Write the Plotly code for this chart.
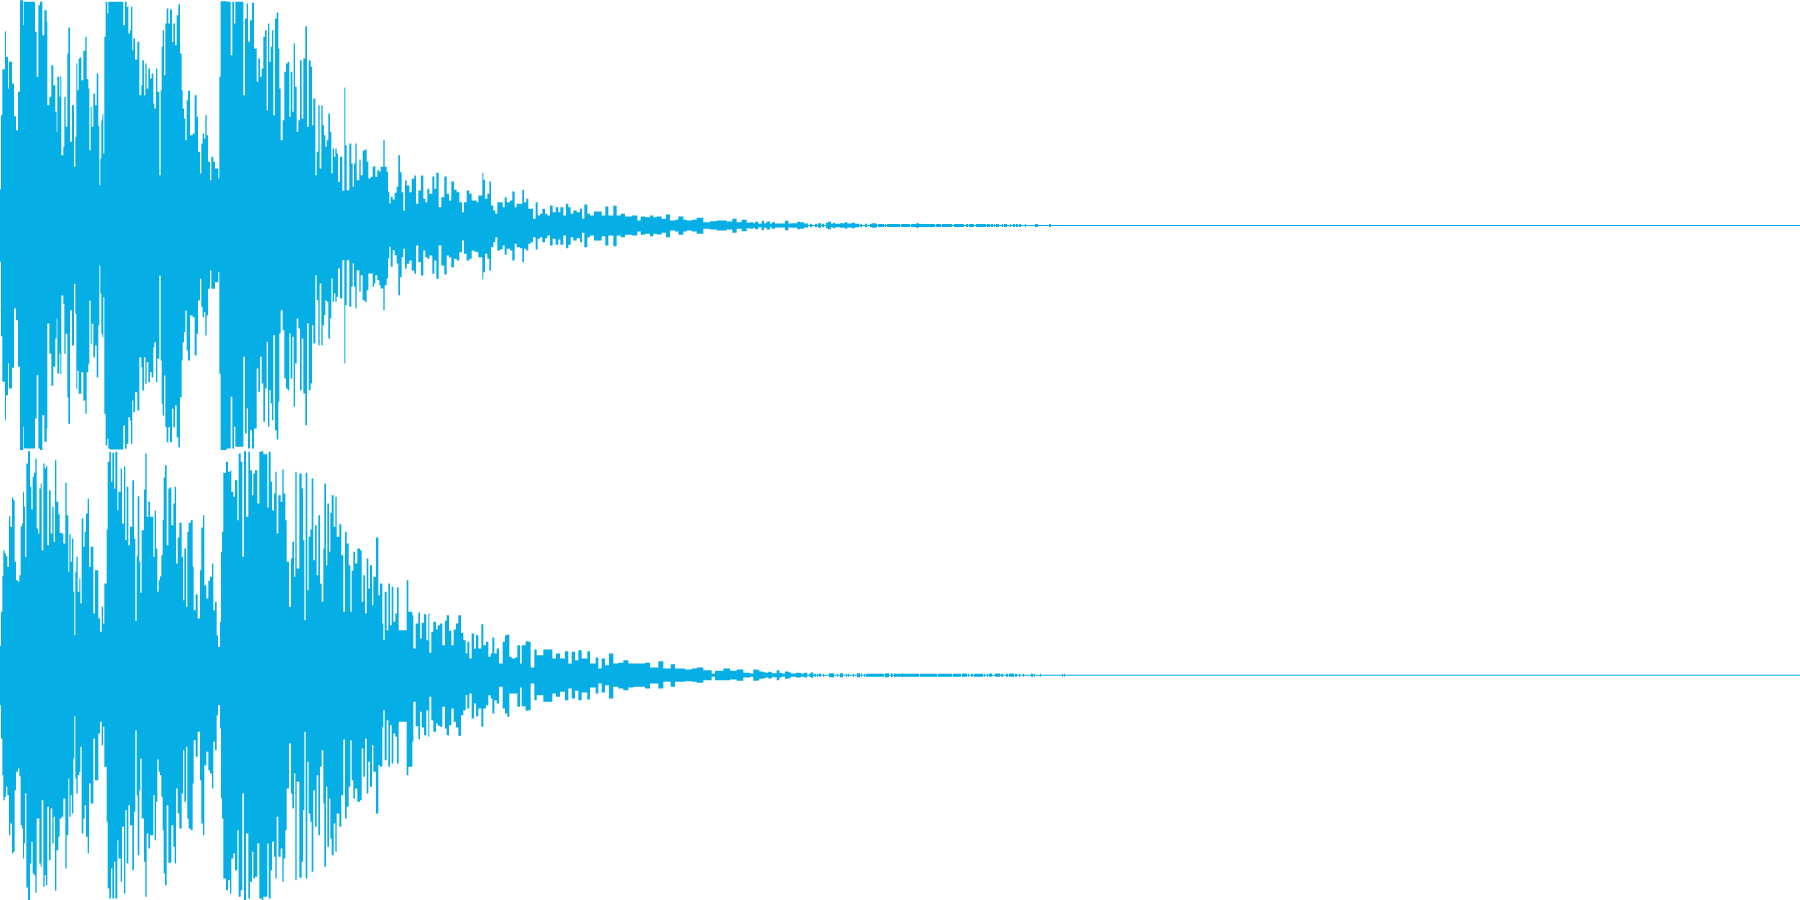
import plotly.graph_objects as go

COLOR = "#06AEE6"

ch1_time = [
    0,3,7,15,18,24,27,36,42,48,
    54,60,70,72,105,110,115,120,127,133,
    140,142,148,154,160,166,170,172,178,181,
    184,190,193,197,202,205,210,216,222,226,
    229,232,236,240,244,250,256,260,265,268,
    272,275,280,285,290,295,298,301,304,307,
    310,313,317,322,325,330,370,375,380,385,
    390,393,397,400,405,412,418,424,427,432,
    436,440,445,450,455,460,463,468,472,478,
    482,485,488,492,496,500,505,510,516,520,
    525,530,535,540,545,548,552,556,560,564,
    570,578,584,590,594,600,604,608,612,616,
    620,624,630,634,640,645,655,658,662,680,
    692,697,702,706,730,735,740,744,750,756,
    762,770,775,780,785,790,795,800,804,808,
    812,816,820,825,830,835,838,842,848,853,
    858,863,868,872,877,881,885,890,895,900,
    905,910,916,921,926,932,936,940,946,950,
    955,959,964,968,972,976,980,985,990,994,
    998,1002,1006,1010,1014,1020,1027,1033,1036,1040,
    1048,1054,1058,1062,1066,1070,1078,1082,1088,1094,
    1100,1105,1112,1118,1122,1126,1132,1138,1142,1150,
    1154,1160,1164,1168,1172,1178,1184,1190,1195,1200,
    1205,1210,1215,1220,1228,1235,1243,1248,1255,1263,
    1270,1276,1282,1288,1297,1303,1309,1316,1324,1333,
    1340,1347,1354,1362,1370,1378,1386,1392,1400,1408,
    1415,1422,1430,1435,1447,1450,1455,1462,1468,1473,
    1480,1486,1492,1500,1508,1514,1520,1530,1537,1544,
    1550,1560,1567,1572,1579,1585,1592,1599,1607,1613,
    1620,1627,1635,1642,1650,1658,1667,1675,1681,1690,
    1698,1705,1712,1720,1730,1740,1746,1753,1762,1770,
    1782,1795,1805,1816,1825,1832,1840,1850,1862,1875,
    1885,1895,1905,1912,1922,1935,1950,1960,1970,1985,
    1998,2010,2025,2035,2050,2060,2075,2090,2110,2130,
    2150,2180,2197,2210,2225,2240,
]
ch1_peak = [
    109,331,469,583,506,411,491,426,328,286,
    401,676,601,671,581,446,661,671,571,646,
    611,361,386,481,421,341,281,446,386,448,
    211,236,386,296,516,594,251,361,176,266,
    486,406,501,504,436,524,566,439,411,226,
    356,296,396,361,456,298,121,201,316,334,
    216,566,671,636,671,671,601,671,656,576,
    586,656,526,561,498,551,391,421,496,391,
    486,411,471,441,456,366,351,471,401,151,
    406,536,586,451,606,651,606,648,551,606,
    541,631,664,516,406,351,321,256,376,404,
    271,276,391,326,221,156,246,276,261,331,
    271,191,136,206,191,171,141,446,673,671,
    511,671,606,671,391,621,666,551,616,668,
    531,431,501,446,471,566,586,346,606,491,
    536,586,331,621,639,531,411,256,316,461,
    486,491,326,461,341,546,416,281,316,496,
    321,501,598,296,496,476,301,381,151,221,
    361,171,361,301,271,236,256,336,281,156,
    231,206,231,216,131,206,104,414,241,106,
    246,186,116,186,246,136,198,151,224,228,
    191,141,146,176,178,146,166,161,176,256,
    176,161,101,66,86,78,98,116,211,160,
    100,45,135,120,100,140,150,65,105,150,
    80,70,110,95,147,110,158,55,85,147,
    95,75,132,107,100,70,40,70,105,95,
    75,75,70,90,158,137,80,95,132,60,
    45,35,70,70,55,85,70,75,102,55,
    65,65,107,70,80,50,50,20,70,30,
    35,50,35,30,60,40,55,40,55,30,
    65,55,35,45,40,50,20,63,35,30,
    42,42,30,57,30,30,59,30,35,27,
    27,30,30,15,27,25,30,25,27,20,
    33,15,17,27,17,15,17,23,10,13,
    15,12,20,10,17,8,
]
ch1_trough = [
    109,332,469,584,509,414,489,427,249,284,
    424,674,604,669,579,449,669,674,569,649,
    609,294,384,481,424,339,279,444,384,446,
    210,235,385,325,515,595,254,360,175,265,
    490,435,505,505,440,525,565,440,415,225,
    355,295,395,360,455,300,120,205,325,335,
    215,565,660,640,670,672,600,670,655,575,
    585,655,525,560,500,555,395,425,495,395,
    475,410,470,440,455,365,350,470,400,150,
    405,535,570,450,605,650,605,650,550,605,
    540,635,665,515,405,350,320,255,375,405,
    270,275,390,325,225,160,245,275,260,330,
    270,190,135,190,190,170,140,445,674,669,
    514,669,604,664,394,624,549,669,614,669,
    609,429,499,394,474,589,489,349,604,494,
    534,584,329,614,642,529,324,254,314,459,
    489,494,324,459,334,544,414,279,309,494,
    339,504,599,294,494,474,299,354,149,224,
    359,174,359,299,269,224,229,339,279,159,
    229,204,229,214,129,219,104,414,239,104,
    244,184,114,184,249,134,199,149,224,229,
    194,144,144,184,174,149,164,179,189,254,
    179,159,99,64,124,74,89,114,209,155,
    95,70,130,115,105,135,145,60,110,150,
    75,95,100,90,145,105,160,60,120,147,
    90,95,125,100,105,80,45,85,105,100,
    75,78,80,95,162,140,85,100,135,65,
    50,35,75,72,60,88,70,75,105,55,
    65,68,110,70,75,55,50,35,72,40,
    35,50,38,30,60,40,58,42,58,30,
    68,58,35,45,38,50,22,65,35,30,
    45,45,32,60,30,30,62,30,35,28,
    28,30,30,18,28,25,32,25,27,22,
    35,15,18,28,18,15,18,25,10,12,
    15,12,22,10,17,8,
]
ch1_tail_time = [
    2250,2260,2265,2275,2285,2292,2300,2310,2315,2325,
    2335,2355,2365,2375,2392,2400,2412,2424,2430,2436,
    2445,2451,2454,2463,2466,2472,2478,2484,2493,2499,
    2505,2520,2535,2542,2555,2565,2578,2581,2586,2595,
    2601,2610,2616,2628,2631,2634,2652,2655,2658,2661,
    2700,2703,2730,2733,2748,2757,2805,2808,2823,2826,
    2856,2862,2892,2898,2904,2907,2922,2928,2958,2961,
    2970,2973,2979,2982,2985,2988,2997,3006,3009,3012,
    3021,3030,3033,3039,3045,3048,3054,3057,3063,3075,
    3078,3105,3114,3147,3153,
]
ch1_tail_level = [
    10,7,11,5,14,7,12,5,10,6,
    6,14,6,7,11,10,6,1.5,5,1.5,
    5,1.5,7,1.5,5,1.5,8,11,5,8,
    5,7,10,6,8,5,1.5,5,1.5,5,
    1.5,5,7,5,1.5,4.5,1.5,4.5,1.5,4.5,
    1.5,4.5,1.5,4.5,7,4.5,1.5,4.5,1.5,4.5,
    1.5,4.5,1.5,4.5,1.5,4.5,1.5,4.5,1.5,4.5,
    1.5,4.5,1.5,4.5,1.5,4.5,1.5,4.5,1.5,4.5,
    1.5,4.5,1.5,4.5,1.5,4.5,1.5,4.5,1.5,4.5,
    1.5,4.5,1.5,4.5,1.5,
]

ch2_time = [
    0,3,7,10,14,18,22,27,31,36,
    40,44,48,54,58,62,66,69,72,75,
    79,84,90,94,98,102,106,110,114,118,
    122,125,130,134,138,142,147,152,157,161,
    165,169,175,179,185,190,196,200,205,208,
    212,216,220,223,226,229,233,238,241,245,
    250,254,258,263,267,272,280,285,295,300,
    305,309,313,320,323,328,333,337,342,346,
    352,355,362,366,372,376,380,385,390,397,
    402,406,410,413,418,421,425,432,436,440,
    445,450,460,464,468,472,476,480,484,488,
    491,495,500,505,510,514,520,524,528,533,
    538,545,549,553,558,562,566,572,578,581,
    587,593,600,604,609,613,619,625,630,636,
    640,645,650,654,660,663,666,670,678,684,
    690,694,700,705,712,716,722,727,732,738,
    745,750,756,760,765,772,778,785,790,802,
    806,812,816,822,826,830,835,842,847,851,
    856,860,867,873,877,882,886,890,898,905,
    909,913,917,922,926,931,935,940,945,950,
    955,960,965,970,973,978,982,987,991,995,
    1001,1006,1010,1018,1024,1030,1035,1040,1046,1051,
    1055,1060,1065,1072,1080,1085,1090,1095,1100,1105,
    1110,1116,1120,1128,1135,1140,1147,1150,1154,1160,
    1165,1170,1175,1180,1186,1191,1196,1220,1225,1237,
    1240,1247,1255,1260,1265,1272,1279,1285,1288,1294,
    1300,1308,1313,1320,1327,1335,1340,1347,1354,1361,
    1368,1375,1383,1390,1397,1402,1408,1415,1422,1428,
    1435,1444,1450,1458,1465,1472,1477,1483,1490,1497,
    1508,1515,1522,1528,1535,1545,1552,1560,1565,1577,
    1583,1592,1603,1610,1620,1630,1640,1650,1657,1668,
    1680,1695,1705,1715,1725,1735,1745,1762,1770,1787,
    1795,1805,1815,1827,1840,1855,1870,1885,1900,1920,
    1935,1950,1965,1975,1990,2012,2025,2040,2055,2075,
    2090,2110,2125,2135,2145,2170,2190,2210,2230,
]
ch2_peak = [
    88,190,297,375,365,357,325,477,445,533,
    525,340,285,280,300,447,455,550,505,355,
    635,672,565,497,595,607,650,440,425,560,
    575,375,635,620,627,390,555,425,505,400,
    645,520,483,427,425,395,578,480,310,423,
    340,410,250,120,310,355,250,290,215,470,
    385,430,485,530,325,385,185,315,170,130,
    205,155,275,437,640,670,580,667,560,670,
    495,550,620,455,627,405,565,390,445,585,
    410,163,357,537,340,247,435,557,665,475,
    520,475,355,493,380,250,285,297,360,465,
    593,630,390,560,563,450,515,565,335,413,
    457,355,225,380,205,430,457,465,325,195,
    243,170,315,443,480,270,230,283,295,335,
    195,220,120,85,160,370,430,607,640,610,
    613,550,535,585,465,665,640,355,672,475,
    670,615,540,605,615,515,670,672,663,503,
    670,580,495,545,610,425,540,520,617,545,
    465,340,205,350,400,295,610,320,605,560,
    405,165,607,255,415,437,590,345,450,300,
    480,275,220,380,575,330,515,370,487,540,
    445,535,415,453,360,190,430,395,330,190,
    313,370,335,380,375,220,300,185,350,260,
    330,210,295,413,240,275,155,105,250,135,
    275,150,265,160,185,263,135,285,190,180,
    80,155,188,110,157,183,105,185,67,130,
    160,137,150,155,90,163,180,133,90,137,
    155,180,127,105,65,100,50,125,80,120,
    80,153,90,100,55,65,113,65,80,35,
    100,120,122,55,50,53,90,35,90,102,
    100,23,77,60,60,77,77,77,50,65,
    50,72,35,70,45,75,50,72,35,53,
    20,50,30,65,35,37,45,35,35,35,
    37,23,23,42,20,33,20,20,17,20,
    23,15,15,5,13,20,13,17,7,
]
ch2_trough = [
    90,190,300,375,365,335,360,480,445,535,
    530,345,290,280,303,450,460,550,505,355,
    637,675,565,500,595,600,653,430,430,565,
    575,375,635,600,630,395,555,400,505,425,
    647,525,485,430,425,370,580,480,310,425,
    360,415,250,123,310,355,300,290,215,475,
    430,390,485,535,325,385,190,315,175,140,
    210,155,275,440,640,670,580,670,560,670,
    495,550,620,455,655,405,565,390,450,585,
    410,165,360,540,345,250,430,560,665,475,
    520,480,360,495,380,253,290,300,365,465,
    595,630,390,563,563,450,515,565,340,415,
    460,355,225,380,215,430,460,465,325,195,
    245,170,315,445,480,270,230,285,295,340,
    200,225,120,90,160,370,430,610,645,615,
    655,550,535,585,465,665,645,355,675,475,
    670,620,530,610,605,505,670,675,665,505,
    670,585,500,545,610,425,545,520,620,550,
    465,340,205,355,400,295,615,320,608,560,
    405,170,610,260,415,440,590,345,455,300,
    480,275,225,385,575,335,515,370,490,540,
    445,530,415,455,360,193,430,395,335,195,
    315,370,340,380,375,220,305,190,355,260,
    335,210,290,415,270,275,155,105,255,135,
    275,150,265,175,185,265,140,300,275,200,
    80,153,192,110,157,180,105,185,65,135,
    170,145,152,155,95,160,180,150,100,140,
    157,182,120,105,60,100,55,130,85,123,
    100,155,100,90,60,70,115,75,85,35,
    100,115,125,55,55,55,95,37,93,107,
    105,25,75,60,60,80,80,80,55,65,
    50,75,40,70,47,75,52,73,37,55,
    25,52,30,70,35,40,45,37,35,35,
    40,25,25,40,20,35,20,20,18,20,
    23,15,15,5,15,15,13,17,7,
]
ch2_tail_time = [
    2250,2260,2270,2278,2290,2297,2305,2315,2330,2338,
    2345,2355,2365,2372,2388,2402,2412,2422,2428,2432,
    2440,2443,2448,2451,2454,2457,2463,2469,2472,2487,
    2502,2511,2514,2520,2529,2538,2541,2544,2547,2559,
    2562,2571,2580,2583,2586,2592,2595,2598,2652,2655,
    2667,2673,2676,2679,2682,2685,2706,2709,2757,2760,
    2811,2814,2856,2859,2883,2886,2901,2904,2907,2913,
    2919,2922,2949,2952,2955,2961,2964,2967,2976,2985,
    3000,3003,3009,3018,3024,3027,3042,3045,3051,3057,
    3060,3069,3072,3093,3099,3102,3105,3120,3123,3186,
    3189,3192,3195,
]
ch2_tail_level = [
    5,17,16,11,9,7,10,6,15,7,
    5,11,9,5,7,5,7,1.5,5,8,
    1.5,4.5,1.5,4.5,1.5,5,1.5,4.5,1.5,6,
    1.5,4.5,1.5,6,1.5,4.5,1.5,4.5,1.5,4.5,
    1.5,6,1.5,5,1.5,4.5,1.5,4.5,1.5,6,
    1.5,6,4.5,1.5,6,4.5,6,4.5,1.5,4.5,
    1.5,4.5,1.5,4.5,1.5,5,1.5,4.5,1.5,4.5,
    1.5,4.5,1.5,4.5,1.5,4.5,1.5,5,1.5,5,
    1.5,4.5,1.5,4.5,1.5,5,1.5,4.5,1.5,4.5,
    1.5,4.5,1.5,5,1.5,4.5,1.5,4.5,1.5,4.5,
    1.5,4.5,1.5,
]
TIME_END = 5400


def channel_traces(time, peak, trough, tail_time, tail_level, xaxis, yaxis):
    t = time + tail_time + [TIME_END]
    up = peak + tail_level + [tail_level[-1]]
    down = [-v for v in trough + tail_level + [tail_level[-1]]]
    common = dict(mode="lines", line=dict(color=COLOR, width=0, shape="hv"),
                  hoverinfo="skip", showlegend=False, xaxis=xaxis, yaxis=yaxis)
    return [
        go.Scatter(x=t, y=down, **common),
        go.Scatter(x=t, y=up, fill="tonexty", fillcolor=COLOR, **common),
    ]


fig = go.Figure()
fig.add_traces(channel_traces(ch1_time, ch1_peak, ch1_trough, ch1_tail_time, ch1_tail_level, "x", "y"))
fig.add_traces(channel_traces(ch2_time, ch2_peak, ch2_trough, ch2_tail_time, ch2_tail_level, "x2", "y2"))
hidden = dict(visible=False, showgrid=False, zeroline=False, fixedrange=True)
fig.update_layout(
    width=1800, height=900, margin=dict(l=0, r=0, t=0, b=0),
    paper_bgcolor="white", plot_bgcolor="white",
    xaxis=dict(domain=[0, 1], range=[0, TIME_END], **hidden),
    xaxis2=dict(domain=[0, 1], range=[0, TIME_END], anchor="y2", **hidden),
    yaxis=dict(domain=[0.5, 1], range=[-673.5, 676.5], anchor="x", **hidden),
    yaxis2=dict(domain=[0, 0.5], range=[-674.5, 675.5], anchor="x2", **hidden),
)
fig.write_html("out.html", config={"displayModeBar": False},
               post_script="document.body.style.margin='0';document.body.style.overflow='hidden';")
